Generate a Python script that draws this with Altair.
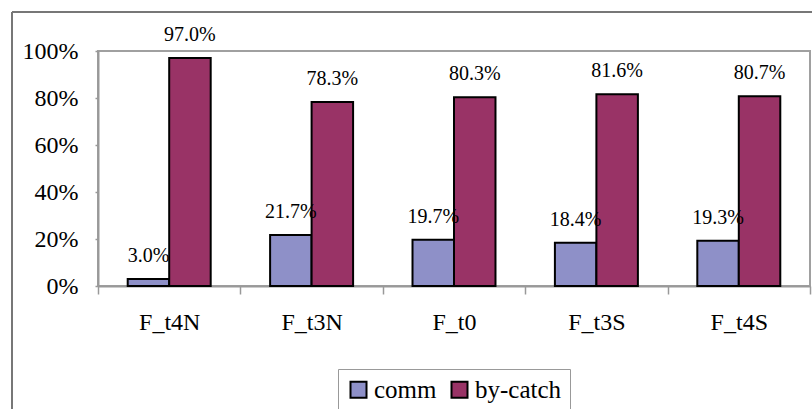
import altair as alt
import pandas as pd

# Share of catch per scenario
categories = ["F_t4N", "F_t3N", "F_t0", "F_t3S", "F_t4S"]
series = ["comm", "by-catch"]
comm = [0.030, 0.217, 0.197, 0.184, 0.193]
bycatch = [0.970, 0.783, 0.803, 0.816, 0.807]
colors = ["#8E90C8", "#993366"]

rows = []
for cat, c, b in zip(categories, comm, bycatch):
    rows.append({"scenario": cat, "group": "comm", "share": c})
    rows.append({"scenario": cat, "group": "by-catch", "share": b})
df = pd.DataFrame(rows)

SERIF = "Liberation Serif"
W, H = 712, 235

x_enc = alt.X(
    "scenario:N",
    sort=categories,
    scale=alt.Scale(paddingInner=0, paddingOuter=0),
    axis=alt.Axis(
        title=None, labelAngle=0, tickBand="extent", tickSize=8,
        labelPadding=16, labelFontSize=24, labelFont=SERIF,
        labelColor="black", domainColor="#999999", domainWidth=2,
        tickColor="#999999", tickWidth=1.5,
    ),
)
xoff_enc = alt.XOffset(
    "group:N", sort=series,
    scale=alt.Scale(domain=series, paddingInner=0, paddingOuter=0.716),
)
y_enc = alt.Y(
    "share:Q",
    scale=alt.Scale(domain=[0, 1]),
    axis=alt.Axis(
        title=None, format=".0%", values=[0, 0.2, 0.4, 0.6, 0.8, 1.0],
        grid=False, tickSize=3, labelPadding=17, labelFontSize=24,
        labelFont=SERIF, labelColor="black", domainColor="#999999",
        domainWidth=2, tickColor="#999999", tickWidth=1.5,
    ),
)

bars = alt.Chart(df).mark_bar(stroke="black", strokeWidth=2).encode(
    x=x_enc,
    xOffset=xoff_enc,
    y=y_enc,
    color=alt.Color(
        "group:N",
        scale=alt.Scale(domain=series, range=colors),
        legend=alt.Legend(
            title=None, orient="none", direction="horizontal",
            legendX=240, legendY=318,
            symbolType="square", symbolSize=256,
            symbolStrokeColor="black", symbolStrokeWidth=2,
            labelFont=SERIF, labelFontSize=25, labelColor="black",
            labelOffset=3, columnPadding=10, padding=8,
            strokeColor="#999999", fillColor="white",
        ),
    ),
)

labels = alt.Chart(df).mark_text(
    font=SERIF, fontSize=20, color="black", baseline="middle", dy=-23
).encode(
    x=x_enc,
    xOffset=xoff_enc,
    y=y_enc,
    text=alt.Text("share:Q", format=".1%"),
)

# Outer frame lines of the chart area
frame_left = alt.Chart(df).mark_rule(color="#777777", strokeWidth=1.5).encode(
    x=alt.value(-86), y=alt.value(-39), y2=alt.value(H + 130)
)
frame_top = alt.Chart(df).mark_rule(color="#777777", strokeWidth=1.5).encode(
    x=alt.value(-86), x2=alt.value(W + 10), y=alt.value(-39)
)

chart = alt.layer(bars, labels, frame_left, frame_top).properties(
    width=W, height=H,
    autosize=alt.AutoSizeParams(type="none"),
    padding={"left": 98, "top": 51, "right": 2, "bottom": 123},
).configure_view(
    stroke="#A0A0A0", strokeWidth=2
)

chart.save("out.html", embed_options={"renderer": "svg", "actions": False})
